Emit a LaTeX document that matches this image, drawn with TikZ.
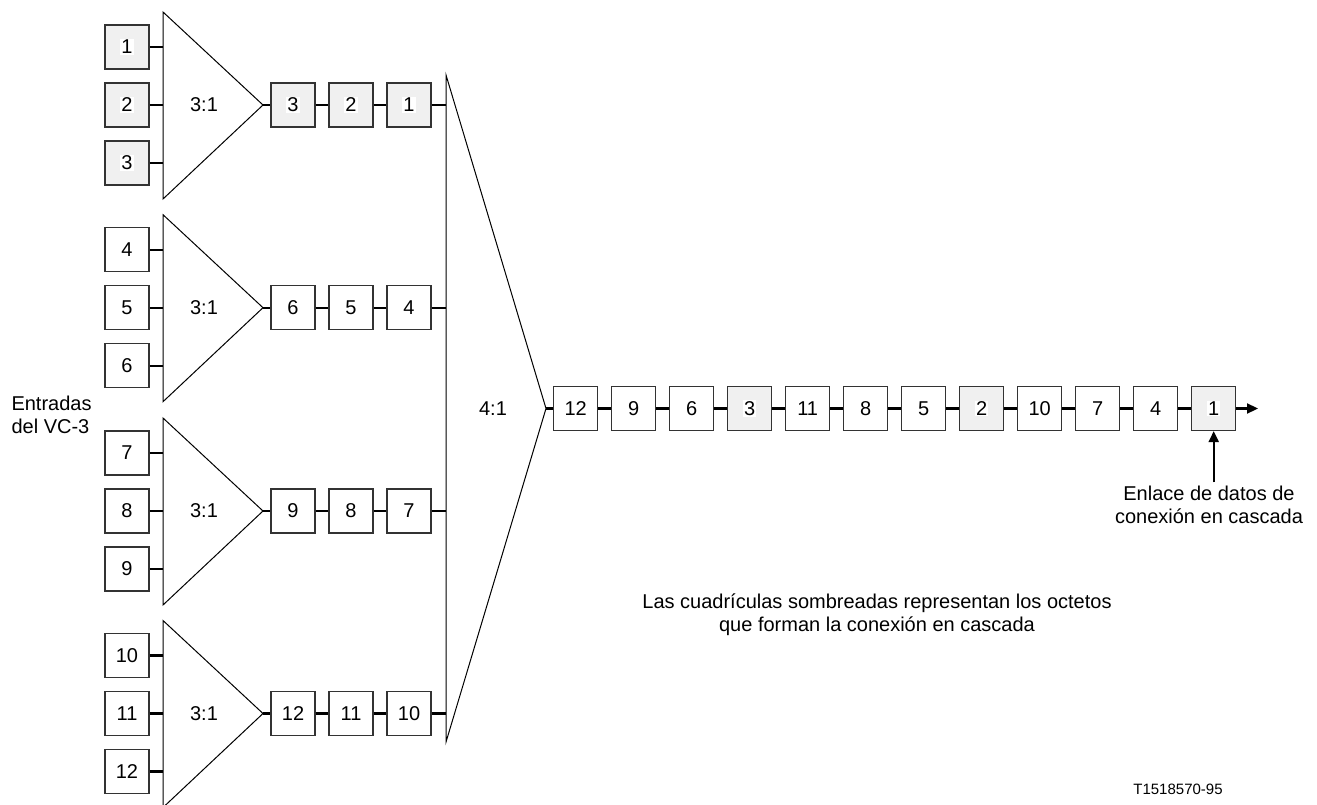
\documentclass[tikz,border=0pt]{standalone}
\usepackage{fontspec}
\setmainfont{Liberation Sans}
\usetikzlibrary{arrows.meta}
\setlength\fboxsep{1pt}
\newcommand\wbox[1]{\colorbox{white}{#1}}
\begin{document}
\begin{tikzpicture}[x=1pt,y=-1pt,
  box/.style={draw=black!80, line width=1.2pt, minimum size=44pt, inner sep=0pt,
              font=\fontsize{20}{24}\selectfont, fill=white},
  shd/.style={box, fill=black!6},
  wire/.style={line width=2.2pt},
  tri/.style={line width=1pt, line join=miter},
  txt/.style={font=\fontsize{20}{23.5}\selectfont, align=center},
  tip/.style={-{Triangle[length=11pt,width=10pt]}}]
\useasboundingbox (0,0) rectangle (1317,805);

% big 4:1 multiplexer
\coordinate (B-top) at (446,75);
\coordinate (B-bot) at (446,742);
\coordinate (B-apex) at (546,408.5);
\draw[tri] (B-top) -- (B-apex) -- (B-bot) -- cycle;
\node[txt] (M41) at (493,408.5) {4:1};

% four 3:1 groups
\foreach \k/\ya in {1/105,2/307.7,3/511,4/713.5}{
  \coordinate (T\k-top) at (163,\ya-93);
  \coordinate (T\k-bot) at (163,\ya+94);
  \coordinate (T\k-apex) at (263,\ya);
  \draw[tri] (T\k-top) -- (T\k-apex) -- (T\k-bot) -- cycle;
  \node[txt] (R\k) at (204,\ya) {3:1};
  \foreach \i in {1,2,3}{
    \pgfmathtruncatemacro\n{3*(\k-1)+\i}
    \ifnum\k=1
      \node[shd] (I\n) at (127,\ya+58*\i-116) {\wbox{\n}};
    \else
      \node[box] (I\n) at (127,\ya+58*\i-116) {\n};
    \fi
    \draw[wire] (I\n.east) -- (I\n.east -| T\k-top);
  }
  \foreach \j in {1,2,3}{
    \pgfmathtruncatemacro\n{3*\k+1-\j}
    \ifnum\k=1
      \node[shd] (C\n) at (235+58*\j,\ya) {\wbox{\n}};
    \else
      \node[box] (C\n) at (235+58*\j,\ya) {\n};
    \fi
  }
  \pgfmathtruncatemacro\ca{3*\k}
  \pgfmathtruncatemacro\cb{3*\k-1}
  \pgfmathtruncatemacro\cc{3*\k-2}
  \draw[wire] (T\k-apex) -- (C\ca.west);
  \draw[wire] (C\ca) -- (C\cb);
  \draw[wire] (C\cb) -- (C\cc);
  \draw[wire] (C\cc.east) -- (C\cc.east -| B-top);
}

% output stream
\foreach \n [count=\c from 0] in {12,9,6,3,11,8,5,2,10,7,4,1}{
  \ifnum\n<4
    \node[shd] (O\n) at (575.7+58*\c,408.5) {\wbox{\n}};
  \else
    \node[box] (O\n) at (575.7+58*\c,408.5) {\n};
  \fi
}
\draw[wire] (B-apex) -- (O12.west);
\foreach \p/\q in {12/9,9/6,6/3,3/11,11/8,8/5,5/2,2/10,10/7,7/4,4/1}{
  \draw[wire] (O\p) -- (O\q);
}
\coordinate (outend) at (1258,408.5);
\draw[wire,tip] (O1.east) -- (outend);

% texts
\node[txt, align=left, anchor=west] (entr) at (8,414.7) {Entradas\\del VC-3};
\node[txt] (enl) at (1209,505) {Enlace de datos de\\conexión en cascada};
\draw[wire,tip] (O1.south |- enl.north) -- (O1.south);
\node[txt] (note) at (877,614.5) {Las cuadrículas sombreadas representan los octetos\\que forman la conexión en cascada};
\node[font=\fontsize{15}{18}\selectfont] (code) at (1178,789) {T1518570-95};
\end{tikzpicture}
\end{document}
